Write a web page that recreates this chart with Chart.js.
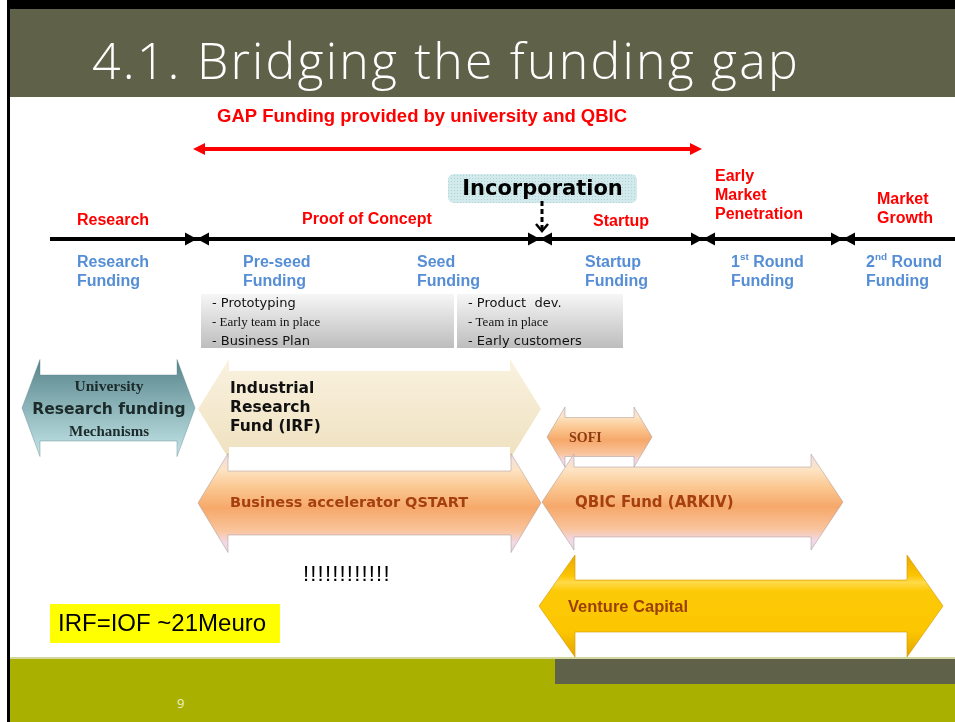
<!DOCTYPE html>
<html>
<head>
<meta charset="utf-8">
<script src="https://cdn.jsdelivr.net/npm/chart.js@4.4.1/dist/chart.umd.min.js"></script>
<style>
  html, body { margin: 0; padding: 0; background: #fff; }
  #slide { position: relative; width: 955px; height: 722px; overflow: hidden; background: #fff; }
  #slide div { position: absolute; }
  .frame-top { left: 8px; top: 0; width: 947px; height: 9px; background: #000; }
  .frame-left { left: 7px; top: 0; width: 3px; height: 722px; background: #000; }
  .titlebar { left: 10px; top: 9px; width: 945px; height: 88px; background: #606149; }
  .title { left: 92px; top: 26px; color: #fff; font: 300 50px "Open Sans", sans-serif; letter-spacing: 2.2px; white-space: nowrap; }
  .footer-line { left: 10px; top: 657px; width: 945px; height: 3px; background: #d4d6a0; }
  .footer { left: 10px; top: 659px; width: 945px; height: 63px; background: #aab000; }
  .footer-dark { left: 555px; top: 659px; width: 400px; height: 25px; background: #606149; }
  .pagenum { left: 177px; top: 694px; color: #eef0c8; font: 13px "Open Sans", sans-serif; }
  canvas { position: absolute; left: 0; top: 0; }
</style>
</head>
<body>
<div id="slide">
  <div class="frame-top"></div>
  <div class="titlebar"></div>
  <div class="title">4.1. Bridging the funding gap</div>
  <div class="footer-line"></div>
  <div class="footer"></div>
  <div class="footer-dark"></div>
  <div class="pagenum">9</div>
  <div class="frame-left"></div>
  <canvas id="gapChart" width="955" height="722"></canvas>
</div>
<script>
// timeline of the company, in slide units along the x axis
const phases = ['Research', 'Proof of Concept', 'Startup', 'Early\nMarket\nPenetration', 'Market\nGrowth'];
const phaseBounds = [50, 197, 540, 703, 843, 955];
const fundingStages = ['Research\nFunding', 'Pre-seed\nFunding', 'Seed\nFunding', 'Startup\nFunding', '1^st^ Round\nFunding', '2^nd^ Round\nFunding'];
const milestones = [
  ['- Prototyping', '- Early team in place', '- Business Plan'],
  ['- Product  dev.', '- Team in place', '- Early customers']
];
const gapFunding = [193, 702];
const incorporationAt = 542;

// funding instruments: range covered on the timeline and row
const instruments = ['University\nResearch funding\nMechanisms', 'Industrial\nResearch\nFund (IRF)', 'Business accelerator QSTART', 'SOFI', 'QBIC Fund (ARKIV)', 'Venture Capital'];
const instrumentFrom = [22, 198, 198, 547, 542, 539];
const instrumentTo = [195, 541, 541, 652, 843, 943];
const instrumentRow = [408, 409, 503, 437, 502, 606];

// styles / layout (not data)
const RED = '#ff0000', BLUE = '#558ed5';
const orangeStops = [[0, '#eddde9'], [0.16, '#fde4c4'], [0.34, '#fbc892'], [0.55, '#f6a86a'], [0.78, '#f9c49c'], [0.9, '#f2d9e6'], [1, '#e2d6e2']];
const arrowStyle = [
  { head: 48.5, body: 33, len: 18, stops: [[0, '#56848b'], [1, '#c4e6e8']], stroke: 'rgba(90,130,135,0.4)',
    text: { dx: 87, align: 'center', color: '#1c2a2a', lines: [[-21, 'bold 15.5px "Liberation Serif"'], [2, 'bold 15.5px "DejaVu Sans"'], [24, 'bold 15px "Liberation Serif"']] } },
  { head: 50, body: 38, len: 31, stops: [[0, '#faf2e0'], [1, '#efe1bf']], stroke: 'rgba(0,0,0,0)',
    text: { dx: 32, align: 'left', color: '#111', lines: [[-20, 'bold 15.5px "DejaVu Sans"'], [-1, 'bold 15.5px "DejaVu Sans"'], [18, 'bold 15.5px "DejaVu Sans"']] } },
  { head: 49.5, body: 32, len: 30, stops: orangeStops, stroke: 'rgba(160,140,140,0.45)',
    text: { dx: 32, align: 'left', color: '#a5400e', lines: [[0, 'bold 14.5px "DejaVu Sans"']] } },
  { head: 30, body: 19.5, len: 18, stops: orangeStops, stroke: 'rgba(160,140,140,0.45)',
    text: { dx: 22, align: 'left', color: '#8f3b12', lines: [[1, 'bold 14px "Liberation Serif"']] } },
  { head: 48, body: 35, len: 32, stops: orangeStops, stroke: 'rgba(160,140,140,0.45)',
    text: { dx: 33, align: 'left', color: '#a5400e', lines: [[1, 'bold 15px "DejaVu Sans"']] } },
  { head: 51, body: 26, len: 36, stops: [[0, '#e9aa00'], [0.2, '#fcc400'], [0.27, '#ffda4a'], [0.35, '#fdca08'], [0.75, '#fcc600'], [1, '#e4a600']], stroke: 'rgba(210,150,0,0.6)',
    text: { dx: 29, align: 'left', color: '#9a3f05', lines: [[1, 'bold 16.5px "Liberation Sans"']] } }
];
const layout = {
  timelineY: 239,
  gapY: 149,
  gapTitleY: 117,
  phaseLabels: [[77, 220.5], [302, 219.5], [593, 221.5], [715, 177], [877, 199.5]],
  stageLabels: [77, 243, 417, 585, 731, 866],
  stageY: 262.5,
  milestoneBoxes: [[201, 454], [457, 623]],
  boxTop: 294, boxBottom: 348,
  incBox: [448, 174, 637, 203]
};

function txt(ctx, s, x, y, font, color, align) {
  ctx.font = font;
  ctx.fillStyle = color;
  ctx.textAlign = align || 'left';
  ctx.textBaseline = 'middle';
  ctx.fillText(s, x, y);
}

// "1^st^ Round" -> superscript
function supText(ctx, s, x, y, size, color) {
  const parts = s.split('^');
  let cx = x;
  ctx.fillStyle = color;
  ctx.textAlign = 'left';
  ctx.textBaseline = 'middle';
  parts.forEach((p, i) => {
    const sup = i % 2 === 1;
    ctx.font = 'bold ' + (sup ? size * 0.62 : size) + 'px "Liberation Sans"';
    ctx.fillText(p, cx, sup ? y - size * 0.3 : y);
    cx += ctx.measureText(p).width;
  });
}

function blockArrow(ctx, x0, x1, yc, st) {
  const { head, body, len } = st;
  ctx.beginPath();
  ctx.moveTo(x0, yc);
  ctx.lineTo(x0 + len, yc - head);
  ctx.lineTo(x0 + len, yc - body);
  ctx.lineTo(x1 - len, yc - body);
  ctx.lineTo(x1 - len, yc - head);
  ctx.lineTo(x1, yc);
  ctx.lineTo(x1 - len, yc + head);
  ctx.lineTo(x1 - len, yc + body);
  ctx.lineTo(x0 + len, yc + body);
  ctx.lineTo(x0 + len, yc + head);
  ctx.closePath();
  const g = ctx.createLinearGradient(0, yc - head, 0, yc + head);
  st.stops.forEach(s => g.addColorStop(s[0], s[1]));
  ctx.fillStyle = g;
  ctx.fill();
  ctx.strokeStyle = st.stroke;
  ctx.lineWidth = 1;
  ctx.stroke();
}

function tri(ctx, tipX, y, dir, len, half) {
  ctx.beginPath();
  ctx.moveTo(tipX, y);
  ctx.lineTo(tipX - dir * len, y - half);
  ctx.lineTo(tipX - dir * len, y + half);
  ctx.closePath();
  ctx.fill();
}

const slidePlugin = {
  id: 'slide',
  beforeDatasetDraw() { return false; },
  afterDraw(chart) {
    const ctx = chart.ctx;
    const xs = chart.scales.x, ys = chart.scales.y;
    const X = v => xs.getPixelForValue(v), Y = v => ys.getPixelForValue(v);
    ctx.save();

    // gap funding headline + red double arrow
    txt(ctx, 'GAP Funding provided by university and QBIC', 217, Y(layout.gapTitleY), 'bold 18.5px "Liberation Sans"', RED);
    const gy = Y(layout.gapY);
    ctx.strokeStyle = RED; ctx.fillStyle = RED; ctx.lineWidth = 4;
    ctx.beginPath(); ctx.moveTo(X(gapFunding[0]) + 8, gy); ctx.lineTo(X(gapFunding[1]) - 8, gy); ctx.stroke();
    tri(ctx, X(gapFunding[0]), gy, -1, 12, 6);
    tri(ctx, X(gapFunding[1]), gy, 1, 12, 6);

    // incorporation box
    const [bx0, by0, bx1, by1] = layout.incBox;
    ctx.beginPath();
    ctx.roundRect(bx0, by0, bx1 - bx0, by1 - by0, 6);
    ctx.fillStyle = '#d2eaec';
    ctx.fill();
    const pc = document.createElement('canvas'); pc.width = 3; pc.height = 3;
    const pctx = pc.getContext('2d'); pctx.fillStyle = 'rgba(130,185,190,0.45)'; pctx.fillRect(1, 1, 1, 1);
    ctx.fillStyle = ctx.createPattern(pc, 'repeat');
    ctx.fill();
    txt(ctx, 'Incorporation', (bx0 + bx1) / 2, (by0 + by1) / 2 + 1, 'bold 21px "DejaVu Sans"', '#000', 'center');

    // dashed arrow down to timeline
    const ix = X(incorporationAt);
    ctx.strokeStyle = '#000'; ctx.lineWidth = 3;
    ctx.setLineDash([5, 3]);
    ctx.beginPath(); ctx.moveTo(ix, by1 - 2); ctx.lineTo(ix, Y(layout.timelineY) - 10); ctx.stroke();
    ctx.setLineDash([]);
    ctx.lineWidth = 2.5;
    ctx.beginPath(); ctx.moveTo(ix - 6, Y(layout.timelineY) - 15); ctx.lineTo(ix, Y(layout.timelineY) - 8); ctx.lineTo(ix + 6, Y(layout.timelineY) - 15); ctx.stroke();

    // phase labels
    phases.forEach((p, i) => {
      const [lx, ly] = layout.phaseLabels[i];
      p.split('\n').forEach((line, k) => txt(ctx, line, lx, Y(ly + k * 18.7), 'bold 16px "Liberation Sans"', RED));
    });

    // timeline
    const ty = Y(layout.timelineY);
    ctx.strokeStyle = '#000'; ctx.fillStyle = '#000'; ctx.lineWidth = 4;
    ctx.beginPath(); ctx.moveTo(X(phaseBounds[0]), ty); ctx.lineTo(X(phaseBounds[phaseBounds.length - 1]), ty); ctx.stroke();
    phaseBounds.slice(1, -1).forEach(b => {
      tri(ctx, X(b), ty, 1, 12, 6.5);
      tri(ctx, X(b), ty, -1, 12, 6.5);
    });

    // funding stage labels
    fundingStages.forEach((s, i) => {
      s.split('\n').forEach((line, k) => supText(ctx, line, X(layout.stageLabels[i]), Y(layout.stageY + k * 19), 16, BLUE));
    });

    // milestone boxes
    milestones.forEach((list, i) => {
      const [x0, x1] = layout.milestoneBoxes[i];
      const g = ctx.createLinearGradient(0, layout.boxTop, 0, layout.boxBottom);
      g.addColorStop(0, '#f6f6f6'); g.addColorStop(1, '#bdbdbd');
      ctx.fillStyle = g;
      ctx.fillRect(x0, layout.boxTop, x1 - x0, layout.boxBottom - layout.boxTop);
      const fonts = ['13px "DejaVu Sans"', '13px "Liberation Serif"', '13px "DejaVu Sans"'];
      list.forEach((m, k) => txt(ctx, m, x0 + 11, layout.boxTop + 10 + k * 19, fonts[k], '#111'));
    });

    // instrument arrows from the bar elements
    const meta = chart.getDatasetMeta(0);
    meta.data.forEach((el, i) => {
      const { x, y, base } = el.getProps(['x', 'y', 'base'], true);
      const st = arrowStyle[i];
      const x0 = Math.min(x, base), x1 = Math.max(x, base);
      blockArrow(ctx, x0, x1, y, st);
      const t = st.text;
      const lines = instruments[i].split('\n');
      lines.forEach((line, k) => txt(ctx, line, x0 + t.dx, y + t.lines[k][0], t.lines[k][1], t.color, t.align));
    });

    // notes
    ctx.letterSpacing = '1.2px';
    txt(ctx, '!!!!!!!!!!!!', 303, 575, '22px "Liberation Sans"', '#000');
    ctx.letterSpacing = '0px';
    ctx.fillStyle = '#ffff00';
    ctx.fillRect(50, 604, 230, 39);
    txt(ctx, 'IRF=IOF ~21Meuro', 58, 624, '24px "Liberation Sans"', '#000');

    ctx.restore();
  }
};

new Chart(document.getElementById('gapChart'), {
  type: 'bar',
  data: {
    labels: instruments,
    datasets: [{
      label: 'Funding instruments',
      data: instruments.map((n, i) => ({ x: [instrumentFrom[i], instrumentTo[i]], y: instrumentRow[i] })),
      barThickness: 10,
      backgroundColor: 'transparent'
    }]
  },
  options: {
    indexAxis: 'y',
    responsive: false,
    animation: false,
    layout: { padding: 0 },
    scales: {
      x: { type: 'linear', min: 0, max: 955, offset: false, display: false },
      y: { type: 'linear', min: 0, max: 722, reverse: true, offset: false, display: false }
    },
    plugins: { legend: { display: false }, tooltip: { enabled: false } }
  },
  plugins: [slidePlugin]
});
</script>
</body>
</html>
